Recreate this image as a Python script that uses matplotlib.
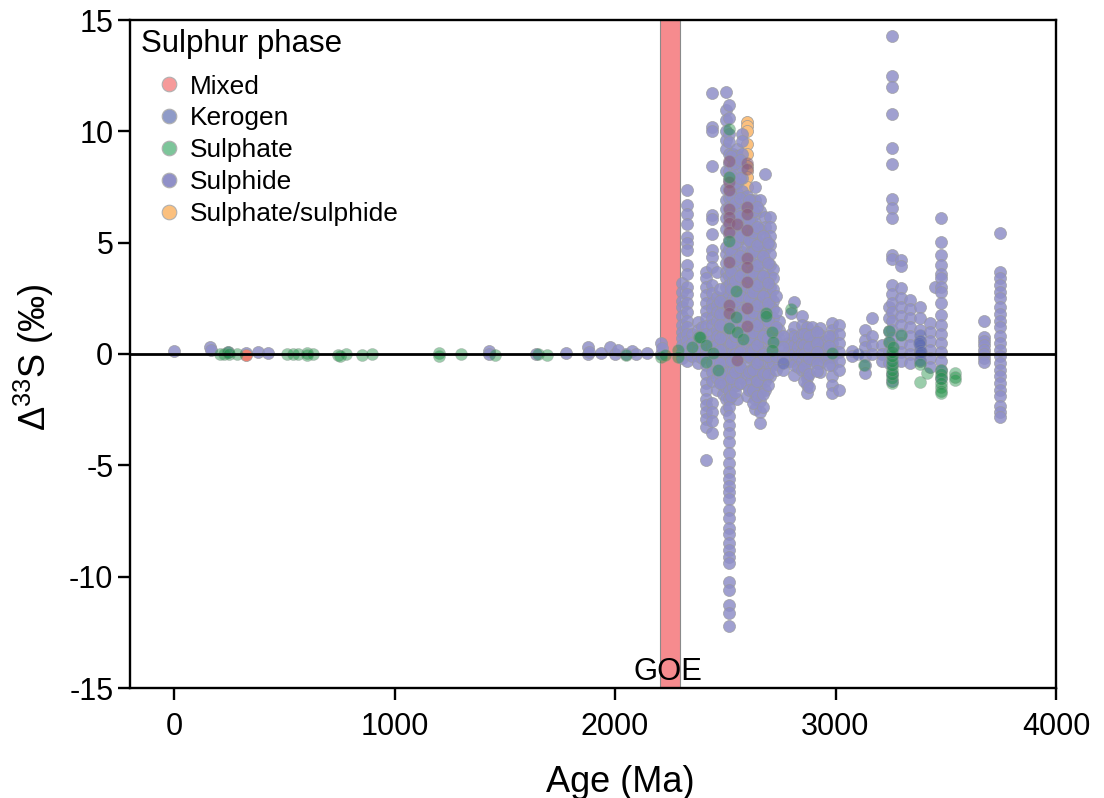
import matplotlib
matplotlib.use('Agg')
import matplotlib.pyplot as plt
from matplotlib.lines import Line2D

plt.rcParams['font.family'] = ['Liberation Sans', 'DejaVu Sans']
plt.rcParams['mathtext.default'] = 'regular'
plt.rcParams['axes.unicode_minus'] = False

# sulphide, one list per age column
sulphide_ages = [1, 163, 168, 245, 325, 382, 425, 1430, 1640, 1778, 1877, 1880, 1938, 1975, 2000, 2012, 2050, 2077, 2095, 2145, 2208, 2212,
                 2303, 2325, 2350, 2378, 2395, 2413, 2438, 2464, 2490, 2503, 2517, 2535, 2553, 2575, 2597, 2615, 2635, 2658, 2682, 2703, 2717, 2745,
                 2785, 2798, 2812, 2830, 2848, 2870, 2893, 2930, 2950, 2984, 3016, 3075, 3134, 3166, 3210, 3242, 3256, 3295, 3338, 3384, 3429, 3451, 3479, 3672, 3746,
                 2478, 2526, 2544, 2565, 2606, 2625, 2646, 2670, 2692, 2730, 2762, 2858, 2880, 2918, 2972]
sulphide_vals = [
    [0.12], [0.32], [0.2], [0.08], [0.05], [0.1], [0.05], [0.13, -0.02], [-0.02], [0.03], [0.3, 0.02], [0.1], [0.03], [0.3], [0.02], [0.18], [-0.02], [0.12], [0.02], [0.06], [0.5, 0.0], [0.25],
    [3.2, 2.8, 2.4, 2.1, 1.7, 1.3, 1.0, 0.7, 0.4, 0.1, -0.2],
    [7.37, 6.7, 6.27, 5.82, 5.27, 5.0, 4.67, 4.0, 3.6, 3.0, 2.7, 2.3, 1.9, 1.5, 1.2, 0.9, 0.6, 0.3, 0.0, -0.3],
    [0.9, 0.5, 0.2, -0.1],
    [1.45, 1.1, 0.8, 0.5, 0.2, -0.1, -0.4],
    [1.2, 0.85, 0.5, 0.15, -0.2],
    [3.7, 3.4, 3.0, 2.65, 2.3, 1.95, 1.6, 1.25, 0.9, 0.55, 0.2, -0.1, -0.5, -0.9, -1.3, -1.6, -2.0, -2.3, -2.6, -2.9, -3.26, -4.75],
    [11.74, 10.2, 10.0, 8.46, 6.24, 6.06, 5.4, 4.67, 4.37, 3.9, 3.1, 2.75, 2.3, 2.0, 1.6, 1.3, 0.9, 0.6, 0.3, 0.0, -0.4, -0.8, -1.2, -2.2, -2.6, -3.0, -3.56],
    [3.7, 2.57, 2.2, 1.9, 1.5, 1.1, 0.8, 0.4, 0.1, -0.3, -0.7, -1.1, -1.6],
    [2.5, 2.1, 1.7, 1.3, 0.9, 0.5, 0.2, -0.2, -0.6, -1.0, -1.4, -1.8],
    [11.78, 10.96, 10.5, 10.0, 9.6, 9.2, 8.2, 7.4, 6.9, 6.5, 6.1, 5.6, 4.8, 4.5, 4.1, 3.7, 3.4, 3.0, 2.6, 2.3, 1.9, 1.5, 1.1, 0.8, 0.4, 0.0, -0.5, -1.0, -1.5, -2.0, -2.5],
    [11.18, 10.6, 9.9, 9.5, 9.0, 8.6, 8.2, 7.8, 7.4, 7.0, 6.6, 6.2, 5.8, 5.4, 5.1, 4.7, 4.3, 3.9, 3.5, 3.1, 2.7, 2.3, 1.9, 1.5, 1.1, 0.7, 0.3, 0.0, -0.4, -0.8, -1.2, -1.6, -2.0, -2.4, -2.8, -3.18, -3.56, -3.93, -4.45, -4.9, -5.3, -5.6, -5.95, -6.2, -6.5, -7.0, -7.37, -7.8, -8.1, -8.5, -8.8, -9.1, -9.37, -10.26, -10.6, -11.27, -11.64, -12.2],
    [9.0, 8.5, 8.0, 7.5, 7.0, 6.5, 6.0, 5.6, 5.1, 4.7, 4.2, 3.8, 3.3, 2.9, 2.5, 2.1, 1.7, 1.3, 0.9, 0.5, 0.1, -0.3, -0.7, -1.1, -1.5],
    [9.2, 8.9, 8.3, 7.7, 7.2, 6.6, 6.1, 5.5, 5.0, 4.5, 4.0, 3.5, 3.0, 2.6, 2.2, 1.8, 1.4, 1.0, 0.6, 0.2, -0.2, -0.6, -1.0, -1.4, -2.0],
    [9.9, 9.55, 9.0, 8.4, 7.9, 7.3, 6.8, 6.2, 5.7, 5.2, 4.6, 4.1, 3.6, 3.1, 2.7, 2.2, 1.8, 1.4, 1.0, 0.6, 0.2, -0.2, -0.7, -1.1],
    [7.1, 6.6, 6.2, 5.7, 5.2, 4.8, 4.3, 3.9, 3.4, 3.0, 2.5, 2.1, 1.6, 1.2, 0.8, 0.4, 0.0, -0.5, -0.9, -1.4, -1.9],
    [6.9, 6.5, 6.0, 5.5, 5.0, 4.6, 4.1, 3.7, 3.2, 2.8, 2.3, 1.9, 1.5, 1.0, 0.6, 0.2, -0.2, -0.7, -1.2],
    [7.5, 6.9, 6.3, 5.9, 5.3, 5.1, 4.7, 4.3, 3.8, 3.3, 2.9, 2.4, 2.0, 1.5, 1.1, 0.7, 0.3, -0.1, -0.6, -1.0, -1.5, -2.0, -2.47],
    [6.9, 6.4, 5.6, 5.0, 4.6, 4.1, 3.6, 3.2, 2.7, 2.3, 1.8, 1.4, 1.0, 0.6, 0.2, -0.3, -0.8, -1.3, -1.7, -2.1, -2.6, -3.1],
    [8.1, 6.17, 5.7, 5.2, 4.7, 4.2, 3.7, 3.2, 2.7, 2.2, 1.8, 1.3, 0.9, 0.5, 0.1, -0.3, -0.8, -1.2, -1.6],
    [6.17, 5.7, 5.3, 4.9, 4.5, 4.0, 3.5, 3.0, 2.6, 2.2, 1.8, 1.4, 1.0, 0.6, 0.2, -0.2, -0.6, -1.0],
    [3.8, 3.4, 2.9, 2.4, 2.0, 1.6, 1.2, 0.8, 0.4, 0.0, -0.4],
    [1.5, 1.1, 0.7, 0.3, -0.1, -0.5],
    [0.5, 0.1, -0.3],
    [1.83, 0.9, 0.5, 0.1, -0.3],
    [2.35, 1.2, 0.8, 0.4, 0.0, -0.5, -0.94],
    [0.7, 0.3, -0.1, -0.6],
    [1.72, 1.3, 0.9, 0.5, 0.1, -0.3, -0.7],
    [1.2, 0.9, 0.6, 0.3, 0.0, -0.3, -0.9, -1.1, -1.4, -1.77],
    [1.2, 0.85, 0.5, 0.2, -0.1, -0.4],
    [1.15, 0.85, 0.55, 0.25, -0.05, -0.4, -0.8],
    [0.6, 0.2, -0.2],
    [1.4, 1.1, 0.8, 0.5, 0.2, -0.15, -0.5, -1.0, -1.4, -1.77],
    [1.3, 0.9, 0.5, 0.1, -0.3, -0.7, -1.6],
    [0.12, -0.1],
    [1.08, 0.65, 0.3, -0.1, -0.5, -0.87],
    [1.63, 0.8, 0.4, 0.0],
    [0.4, 0.0, -0.3],
    [2.1, 1.6, 1.03, 0.55, 0.1, -0.4],
    [4.45, 4.27, 3.1, 2.7, 2.3, 1.9, 1.5, 1.1, 0.7, 0.3, -0.1, -0.5, -0.9, -1.2, 14.3, 12.5, 12.0, 10.8, 9.24, 8.53, 6.96, 6.54, 6.09],
    [4.2, 3.97, 2.95, 2.5, 2.1, 1.7, 1.3, 0.9, 0.5, 0.1, -0.3],
    [2.43, 2.0, 1.6, 1.2, 0.8, 0.4, 0.0, -0.4],
    [2.1, 1.6, 1.1, 0.6, 0.1, -0.3],
    [1.38, 1.0, 0.6, 0.2, -0.2, -0.6],
    [3.0],
    [6.09, 5.05, 4.45, 4.0, 3.6, 3.4, 3.0, 2.8, 2.3, 1.75, 1.3, 0.9, 0.5, 0.1, -0.3, -0.7, -1.1],
    [1.48, 0.78, 0.6, 0.4, 0.2, 0.0, -0.2, -0.35],
    [5.45, 3.67, 3.4, 3.1, 2.8, 2.5, 2.13, 1.8, 1.5, 1.2, 0.8, 0.5, 0.2, -0.1, -0.4, -0.7, -1.0, -1.3, -1.6, -1.9, -2.35, -2.6, -2.85],
    [2.9, 2.4, 1.8, 1.3, 0.7, 0.2, -0.4, -0.9, -1.3],
    [8.9, 8.0, 7.1, 6.3, 5.4, 4.6, 3.7, 2.9, 2.1, 1.3, 0.5, -0.3, -1.1, -1.9],
    [8.6, 7.7, 6.8, 5.9, 5.0, 4.2, 3.3, 2.4, 1.6, 0.8, 0.0, -0.8, -1.7],
    [8.7, 7.9, 7.0, 6.2, 5.3, 4.4, 3.5, 2.6, 1.7, 0.9, 0.1, -0.6, -1.3],
    [6.9, 6.0, 5.1, 4.3, 3.4, 2.5, 1.6, 0.7, -0.1, -0.8, -1.6],
    [6.4, 5.5, 4.6, 3.7, 2.8, 1.9, 1.0, 0.2, -0.7, -1.6, -2.2],
    [6.6, 5.7, 4.9, 4.0, 3.1, 2.2, 1.3, 0.4, -0.4, -1.2, -1.9],
    [5.3, 4.4, 3.5, 2.6, 1.7, 0.8, 0.0, -0.9, -1.8, -2.4],
    [5.0, 4.1, 3.2, 2.3, 1.5, 0.7, -0.1, -0.9, -1.4],
    [2.6, 1.9, 1.2, 0.6, -0.1, -0.7],
    [0.8, 0.3, -0.2, -0.7],
    [0.9, 0.4, 0.0, -0.6, -1.2],
    [0.8, 0.3, -0.2, -0.9, -1.5],
    [1.0, 0.5, 0.1, -0.4, -0.75],
    [0.8, 0.35, -0.1, -0.5],
]

# kerogen stacks at 3384 Ma, darker where it sits on the sulphide column
kerogen_age = [3384, 3384, 3384, 3384, 3384, 3384, 3380, 3388, 2760, 3100]
kerogen_val = [0.85, 0.6, 0.4, 0.2, 0.0, -0.25, 0.5, 0.1, -0.4, 0.02]

sulphate_age = [208, 225, 245, 250, 287, 510, 540, 560, 602, 604, 632, 744, 752, 779, 851, 897, 1200, 1202, 1302, 1456, 1652, 1690, 2050, 2208, 2225, 2286, 2286,
                2349, 2381, 2385, 2413, 2413, 2445, 2467, 2517, 2517, 2517, 2517, 2549, 2549, 2553, 2580, 2685, 2685, 2712, 2717, 2712, 2798, 2984, 3130,
                3242, 3242, 3256, 3256, 3256, 3256, 3256, 3256, 3256, 3256, 3262, 3295, 3384, 3415, 3384, 3479, 3479, 3479, 3479, 3479, 3479, 3479, 3542, 3542, 3542]
sulphate_val = [0.0, -0.02, 0.1, 0.0, 0.0, -0.02, 0.0, 0.0, 0.05, -0.03, 0.02, -0.03, -0.08, -0.02, -0.04, -0.02, 0.05, -0.1, -0.02, -0.05, -0.02, -0.04, -0.05, -0.15, -0.05, 0.2, -0.15,
                0.3, 0.78, 0.75, 0.4, -0.34, 0.03, -0.72, 10.09, 7.93, 5.09, 1.15, 2.83, 1.65, 1.0, 0.67, 1.85, 1.72, 0.97, 0.55, 0.18, 2.02, 0.03, -0.49,
                1.03, 0.55, -1.3, -1.1, -0.9, -0.7, -0.5, -0.3, -0.1, 0.1, 0.3, 0.85, -1.25, -0.87, -0.45, -0.7, -0.9, -1.1, -1.3, -1.5, -1.65, -1.77, -0.85, -1.05, -1.15]

orange_age = [2597, 2597, 2597, 2597, 2597, 2597, 2597, 2597, 2597, 2597, 2597, 2597]
orange_val = [10.43, 10.24, 10.03, 9.43, 9.0, 8.46, 8.2, 7.96, 7.5, 6.6, 6.3, 6.17]

mixed_age = [325]
mixed_val = [-0.05]

# mixed points sitting inside the sulphide cloud
mixed_in_age = [2517, 2517, 2517, 2517, 2517, 2517, 2517, 2517, 2517, 2517, 2553, 2553, 2597, 2597, 2597, 2597, 2597, 2597, 2597, 2597, 2597, 2597]
mixed_in_val = [8.67, 7.74, 7.37, 6.5, 6.17, 5.87, 5.5, 4.15, 2.2, 1.83, 5.84, -0.27, 8.6, 8.3, 6.6, 6.3, 5.57, 4.3, 3.9, 3.25, 2.05, 1.26]

phase_names = ['Mixed', 'Kerogen', 'Sulphate', 'Sulphide', 'Sulphate/sulphide']
phase_colors = ['#F69A9A', '#8F9BC8', '#7DC59A', '#9090C8', '#FBC07E']

x_ticks = [0, 1000, 2000, 3000, 4000]
y_ticks = [-15, -10, -5, 0, 5, 10, 15]

sulphide_x = []
sulphide_y = []
for a, vals in zip(sulphide_ages, sulphide_vals):
    for v in vals:
        sulphide_x.append(a)
        sulphide_y.append(v)

fig = plt.figure(figsize=(11.04, 7.98), dpi=100)
ax = fig.add_axes([130 / 1104, 1 - 688 / 798, 926 / 1104, 668 / 798])

ax.axvspan(2204, 2295, facecolor='#F68B8E', edgecolor='#8a8a8a', linewidth=0.8, zorder=1)

edge = '#9a9a9a'
ms = 75
ax.scatter(orange_age, orange_val, s=ms, c='#FBC07E', edgecolors=edge, linewidths=0.5, zorder=2)
ax.scatter(mixed_age, mixed_val, s=ms, c='#F08070', edgecolors=edge, linewidths=0.5, zorder=5)
ax.scatter(sulphide_x, sulphide_y, s=ms, c='#9090C8', alpha=0.85, edgecolors=edge, linewidths=0.5, zorder=3)
ax.scatter(kerogen_age, kerogen_val, s=ms, c='#5A68B0', alpha=0.45, edgecolors=edge, linewidths=0.5, zorder=4)
ax.scatter(mixed_in_age, mixed_in_val, s=ms, c='#8A5A78', alpha=0.55, edgecolors=edge, linewidths=0.5, zorder=4)
ax.scatter(sulphate_age, sulphate_val, s=ms, c='#1F9045', alpha=0.45, edgecolors=edge, linewidths=0.5, zorder=5)

ax.axhline(0, color='black', linewidth=2.0, zorder=6)

ax.set_xlim(-200, 4000)
ax.set_ylim(-15, 15)
ax.set_xticks(x_ticks)
ax.set_yticks(y_ticks)
ax.tick_params(axis='both', labelsize=22, width=1.7, length=8.5)
ax.tick_params(axis='x', pad=9)
ax.tick_params(axis='y', pad=3.5)
for s in ax.spines.values():
    s.set_linewidth(1.7)

ax.set_xlabel('Age (Ma)', fontsize=26)
ax.xaxis.set_label_coords(0.529, -0.115)
ax.set_ylabel('Δ$^{33}$S (‰)', fontsize=26)
ax.yaxis.set_label_coords(-0.08, 0.496)

ax.text(2242, -14.3, 'GOE', fontsize=22.3, ha='center', va='center', zorder=7)

ax.text(0.0118, 0.964, 'Sulphur phase', transform=ax.transAxes, fontsize=22.5, ha='left', va='center')
handles = [Line2D([], [], linestyle='none', marker='o', markersize=10.5, markerfacecolor=c,
                  markeredgecolor='#b0b0b0', markeredgewidth=0.8) for c in phase_colors]
leg = ax.legend(handles, phase_names, loc='upper left', frameon=False,
                fontsize=18.9, labelspacing=0.3, handlelength=1.4,
                handletextpad=0.1, borderaxespad=0, bbox_to_anchor=(0.0108, 0.934))

fig.savefig('out.png', dpi=100)
